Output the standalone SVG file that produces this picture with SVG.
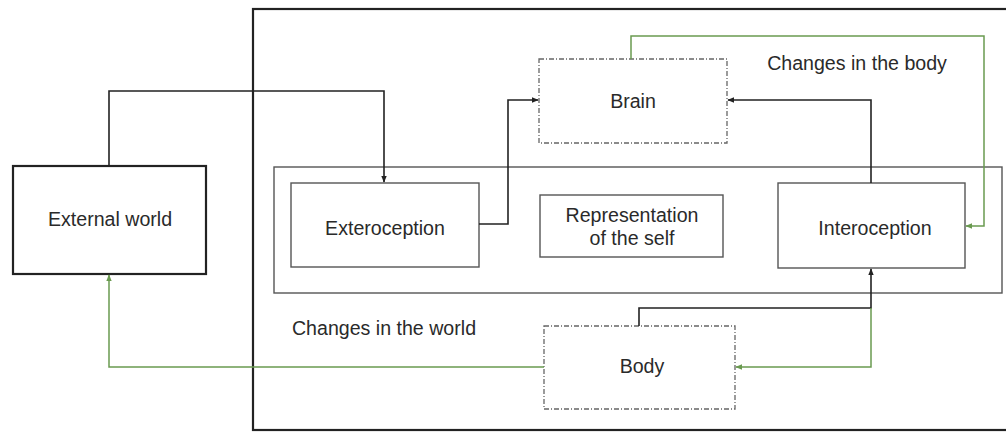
<svg xmlns="http://www.w3.org/2000/svg" width="1006" height="432" viewBox="0 0 1006 432">
<defs>
<style>
text{font-family:"Liberation Sans",Arial,sans-serif;font-size:19.6px;fill:#2a2a2a;text-anchor:middle}
.thick{fill:none;stroke:#222;stroke-width:2.2}
.gray{fill:#fff;stroke:#555;stroke-width:1.4}
.dash{fill:#fff;stroke:#666;stroke-width:1.3;stroke-dasharray:5 2 1 2}
.blk{fill:none;stroke:#222;stroke-width:1.6}
.grn{fill:none;stroke:#6a9a50;stroke-width:1.5}
</style>
<marker id="ab" viewBox="0 0 10 10" refX="9" refY="5" markerWidth="7" markerHeight="7" markerUnits="userSpaceOnUse" orient="auto"><path d="M0,1 L10,5 L0,9 z" fill="#222"/></marker>
<marker id="ag" viewBox="0 0 10 10" refX="9" refY="5" markerWidth="7" markerHeight="7" markerUnits="userSpaceOnUse" orient="auto"><path d="M0,1 L10,5 L0,9 z" fill="#6a9a50"/></marker>
</defs>
<rect width="1006" height="432" fill="#fff"/>
<g id="outer"><rect class="thick" x="253" y="9" width="760" height="421"/></g>
<g id="self-box"><rect x="274" y="167" width="728" height="126" fill="none" stroke="#555" stroke-width="1.4"/></g>
<g id="external-world"><rect class="thick" x="13" y="166" width="193" height="108" fill="#fff"/><text x="110" y="226">External world</text></g>
<g id="exteroception"><rect class="gray" x="291" y="183" width="188" height="84"/><text x="385" y="235">Exteroception</text></g>
<g id="representation"><rect class="gray" x="540" y="195" width="183" height="62"/><text x="632" y="222">Representation</text><text x="632" y="245">of the self</text></g>
<g id="interoception"><rect class="gray" x="778" y="183" width="187" height="85"/><text x="875" y="235">Interoception</text></g>
<g id="brain"><rect class="dash" x="539" y="59" width="188" height="84"/><text x="633" y="108">Brain</text></g>
<g id="body"><rect class="dash" x="544" y="326" width="191" height="83"/><text x="642" y="373">Body</text></g>
<g id="labels"><text x="857" y="70">Changes in the body</text><text x="384" y="335">Changes in the world</text></g>
<g id="connectors">
<path class="blk" d="M109,166 V91 H384 V182" marker-end="url(#ab)"/>
<path class="blk" d="M479,224 H508 V100 H538" marker-end="url(#ab)"/>
<path class="blk" d="M871,183 V100 H728" marker-end="url(#ab)"/>
<path class="blk" d="M639,326 V308 H871 V269" marker-end="url(#ab)"/>
<path class="grn" d="M631,59 V36 H984 V226 H966" marker-end="url(#ag)"/>
<path class="grn" d="M871,308 V367 H736" marker-end="url(#ag)"/>
<path class="grn" d="M544,367 H109 V275" marker-end="url(#ag)"/>
</g>
</svg>
